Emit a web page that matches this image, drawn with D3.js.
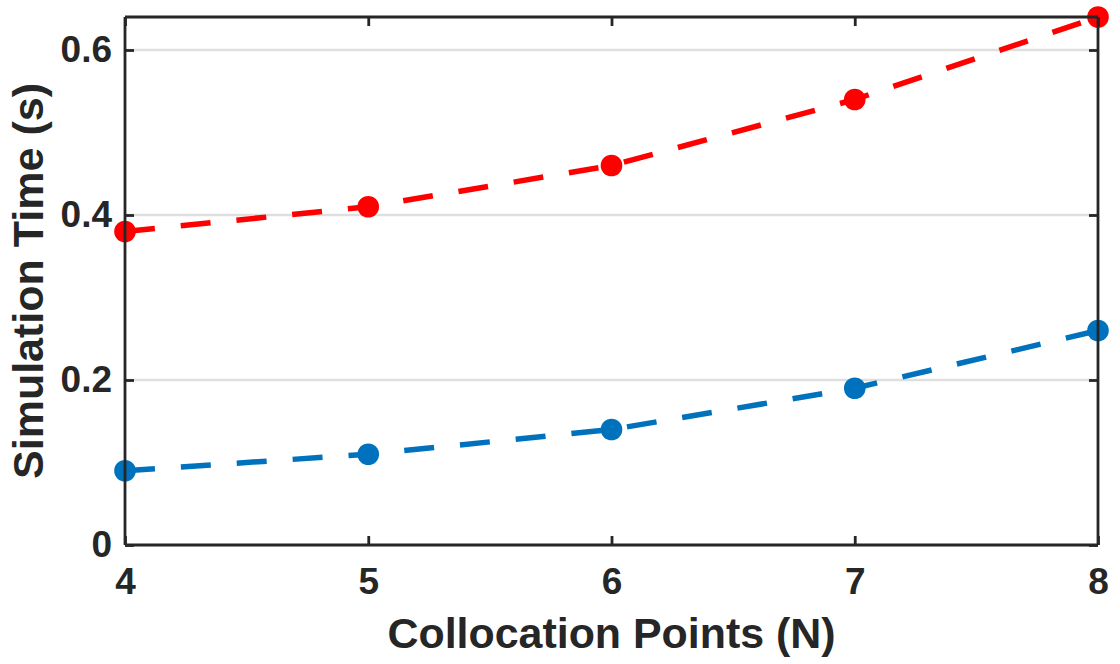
<!DOCTYPE html>
<html>
<head>
<meta charset="utf-8">
<script src="https://cdn.jsdelivr.net/npm/d3@7"></script>
<style>
  html, body { margin: 0; padding: 0; background: #fff; }
  svg { display: block; }
  text { font-family: "Liberation Sans", Arial, sans-serif; font-weight: bold; fill: #262626; }
</style>
</head>
<body>
<svg id="chart" width="1120" height="664"></svg>
<script>
// Collocation points N and simulation times (s) for the two runs
const points = [4, 5, 6, 7, 8];
const timeRed = [0.38, 0.41, 0.46, 0.54, 0.64];
const timeBlue = [0.09, 0.11, 0.14, 0.19, 0.26];
const xTicks = [4, 5, 6, 7, 8];
const yTicks = [0, 0.2, 0.4, 0.6];
const yTickLabels = ["0", "0.2", "0.4", "0.6"];

const svg = d3.select("#chart");
const box = { left: 125, right: 1098, top: 17, bottom: 545 };
const axisColor = "#262626";

const x = d3.scaleLinear().domain([4, 8]).range([box.left, box.right]);
const y = d3.scaleLinear().domain([0, 0.64]).range([box.bottom, box.top]);

// horizontal grid lines
svg.append("g").selectAll("line")
  .data(yTicks.filter(d => d > 0))
  .join("line")
  .attr("x1", box.left).attr("x2", box.right)
  .attr("y1", d => y(d)).attr("y2", d => y(d))
  .attr("stroke", "#dfdfdf").attr("stroke-width", 2.5);

// series lines and markers
function drawSeries(values, color) {
  const data = points.map((p, i) => [p, values[i]]);
  svg.append("path")
    .datum(data)
    .attr("fill", "none")
    .attr("stroke", color)
    .attr("stroke-width", 5.5)
    .attr("stroke-dasharray", "30,26")
    .attr("d", d3.line().x(d => x(d[0])).y(d => y(d[1])));
  svg.append("g").selectAll("circle")
    .data(data)
    .join("circle")
    .attr("cx", d => x(d[0])).attr("cy", d => y(d[1]))
    .attr("r", 10.8)
    .attr("fill", color);
}

// box frame drawn with axes so ticks sit inside on all four sides
const tickLen = 9;
const bottomAxis = d3.axisBottom(x).tickValues(xTicks).tickSize(-tickLen).tickPadding(23).tickFormat(d3.format("d"));
const topAxis = d3.axisTop(x).tickValues(xTicks).tickSize(-tickLen).tickFormat("");
const leftAxis = d3.axisLeft(y).tickValues(yTicks).tickSize(-tickLen).tickPadding(13)
  .tickFormat((d, i) => yTickLabels[i]);
const rightAxis = d3.axisRight(y).tickValues(yTicks).tickSize(-tickLen).tickFormat("");

function styleAxis(g) {
  g.select(".domain").attr("stroke", axisColor).attr("stroke-width", 2.8);
  g.selectAll(".tick line").attr("stroke", axisColor).attr("stroke-width", 2.8);
  g.selectAll(".tick text").attr("fill", axisColor).style("font-size", "37px")
    .style("font-family", "'Liberation Sans', Arial, sans-serif").style("font-weight", "bold");
}

drawSeries(timeBlue, "#0072bd");
drawSeries(timeRed, "#ff0000");

svg.append("g").attr("transform", `translate(0,${box.bottom})`).call(bottomAxis).call(styleAxis)
  .call(g => g.select(".domain").attr("d", `M${box.left},0H${box.right}`));
svg.append("g").attr("transform", `translate(0,${box.top})`).call(topAxis).call(styleAxis)
  .call(g => g.select(".domain").attr("d", `M${box.left},0H${box.right}`));
svg.append("g").attr("transform", `translate(${box.left},0)`).call(leftAxis).call(styleAxis)
  .call(g => g.select(".domain").attr("d", `M0,${box.bottom}V${box.top}`));
svg.append("g").attr("transform", `translate(${box.right},0)`).call(rightAxis).call(styleAxis)
  .call(g => g.select(".domain").attr("d", `M0,${box.bottom}V${box.top}`));

// the end markers overlap the frame
svg.selectAll("circle").raise();

// axis titles
svg.append("text")
  .attr("x", (box.left + box.right) / 2).attr("y", 648)
  .attr("text-anchor", "middle")
  .style("font-size", "42px")
  .attr("textLength", 448).attr("lengthAdjust", "spacingAndGlyphs")
  .text("Collocation Points (N)");

svg.append("text")
  .attr("transform", `translate(43,${(box.top + box.bottom) / 2}) rotate(-90)`)
  .attr("text-anchor", "middle")
  .style("font-size", "42px")
  .attr("textLength", 396).attr("lengthAdjust", "spacingAndGlyphs")
  .text("Simulation Time (s)");
</script>
</body>
</html>
